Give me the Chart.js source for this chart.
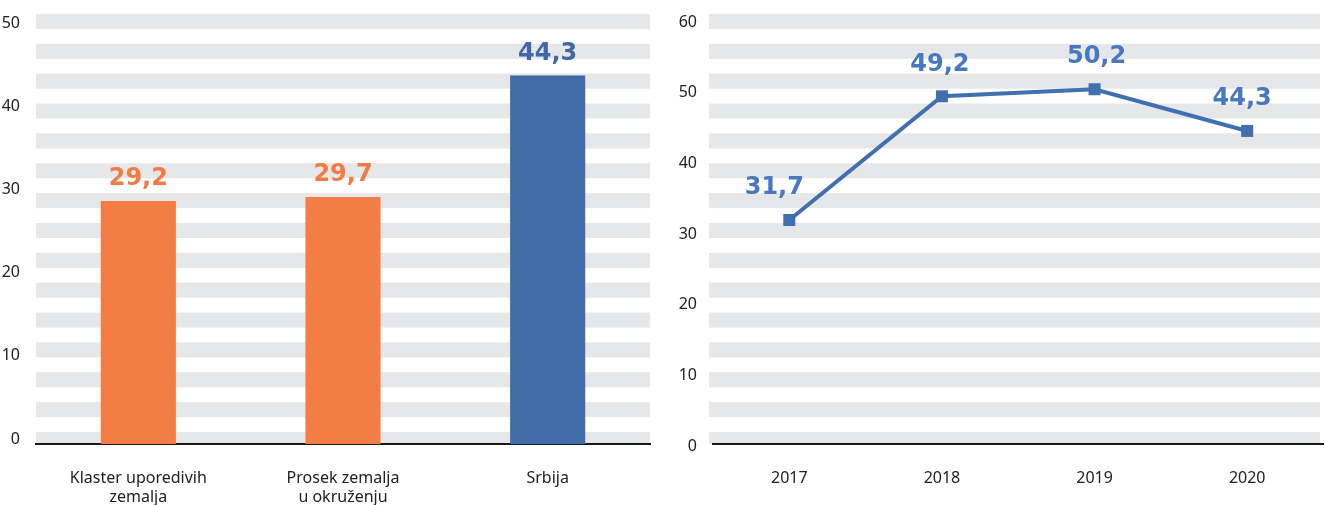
<!DOCTYPE html>
<html>
<head>
<meta charset="utf-8">
<script src="https://cdn.jsdelivr.net/npm/chart.js@4"></script>
<style>
  html, body { margin: 0; padding: 0; background: #fff; overflow: hidden; }
  #wrap { position: relative; width: 1325px; height: 505px; overflow: hidden; }
  canvas { position: absolute; top: 0; }
  #bar-chart { left: 0; }
  #line-chart { left: 660px; }
</style>
</head>
<body>
<div id="wrap">
  <canvas id="bar-chart" width="660" height="505"></canvas>
  <canvas id="line-chart" width="672" height="505"></canvas>
</div>
<script>
// Left panel: comparison of three groups
const barCategories = [['Klaster uporedivih', 'zemalja'], ['Prosek zemalja', 'u okruženju'], 'Srbija'];
const barValues = [29.2, 29.7, 44.3];
const barColors = ['#F47C45', '#F47C45', '#416BA9'];
const barMax = 50;

// Right panel: Srbija over the years
const years = ['2017', '2018', '2019', '2020'];
const lineValues = [31.7, 49.2, 50.2, 44.3];
const lineMax = 60;

const TICK_FONT = { family: 'Noto Sans', size: 16 };
const VALUE_FONT = 'bold 24px "DejaVu Sans"';

// comma as decimal separator, like the original
const fmt = v => v.toFixed(1).replace('.', ',');

// grey horizontal bands behind both charts
const stripesPlugin = {
    id: 'stripes',
    beforeDraw(chart, args, opts) {
        const { ctx, chartArea } = chart;
        const period = 29.86;
        const left = chartArea.left - (opts.extendLeft || 0);
        const right = opts.maxRight ? Math.min(opts.maxRight, chartArea.right) : chartArea.right;
        ctx.save();
        ctx.fillStyle = '#E6E7E8';
        for (let k = 0; k < 15; k++) {
            const y = chartArea.bottom - 12 - k * period;
            const h = Math.min(15, chartArea.bottom - y);
            ctx.fillRect(left, y, right - left, h);
        }
        ctx.restore();
    }
};

// value labels above bars / points
const valueLabels = {
    id: 'valueLabels',
    afterDatasetsDraw(chart, args, opts) {
        const { ctx } = chart;
        const ds = chart.data.datasets[0];
        const meta = chart.getDatasetMeta(0);
        ctx.save();
        ctx.font = VALUE_FONT;
        ctx.textAlign = 'center';
        ctx.textBaseline = 'middle';
        meta.data.forEach((el, i) => {
            const dx = (opts.dx && opts.dx[i]) || 0;
            ctx.fillStyle = Array.isArray(opts.color) ? opts.color[i] : opts.color;
            ctx.fillText(fmt(ds.data[i]), el.x + dx, el.y - opts.offset);
        });
        ctx.restore();
    }
};

function yAxis(max, width, labelOffset) {
    return {
        min: 0,
        max: max,
        ticks: { stepSize: 10, font: TICK_FONT, color: '#222', padding: 8, labelOffset: labelOffset },
        grid: { display: false },
        border: { display: false },
        afterFit(scale) { scale.width = width; }
    };
}

function xAxis() {
    return {
        ticks: { font: { ...TICK_FONT, lineHeight: 1.2 }, color: '#222', padding: 17, maxRotation: 0, autoSkip: false },
        grid: { display: false },
        border: { display: true, color: '#1a1a1a', width: 2 },
        afterFit(scale) { scale.height = 61; }
    };
}

new Chart(document.getElementById('bar-chart'), {
    type: 'bar',
    data: {
        labels: barCategories,
        datasets: [{
            data: barValues,
            backgroundColor: barColors,
            borderWidth: 0,
            barPercentage: 0.367,
            categoryPercentage: 1
        }]
    },
    options: {
        responsive: false,
        animation: false,
        layout: { padding: { top: 28, right: 10, left: 0, bottom: 0 } },
        scales: { x: xAxis(), y: yAxis(barMax, 36, -5) },
        plugins: {
            legend: { display: false },
            tooltip: { enabled: false },
            stripes: {},
            valueLabels: { color: ['#F27A43', '#F27A43', '#4169A6'], offset: 22 }
        }
    },
    plugins: [stripesPlugin, valueLabels]
});

new Chart(document.getElementById('line-chart'), {
    type: 'line',
    data: {
        labels: years,
        datasets: [{
            data: lineValues,
            borderColor: '#4170B1',
            backgroundColor: '#4170B1',
            borderWidth: 4,
            tension: 0,
            fill: false,
            pointStyle: 'rect',
            pointRadius: 8.5,
            pointBorderWidth: 0,
            clip: false
        }]
    },
    options: {
        responsive: false,
        animation: false,
        layout: { padding: { top: 20, right: 3, left: 0, bottom: 0 } },
        scales: { x: { ...xAxis(), offset: true }, y: yAxis(lineMax, 53, 2) },
        plugins: {
            legend: { display: false },
            tooltip: { enabled: false },
            stripes: { extendLeft: 4, maxRight: 660 },
            valueLabels: { color: '#4878BE', offset: 32, dx: [-15, -2, 2, -5] }
        }
    },
    plugins: [stripesPlugin, valueLabels]
});
</script>
</body>
</html>
